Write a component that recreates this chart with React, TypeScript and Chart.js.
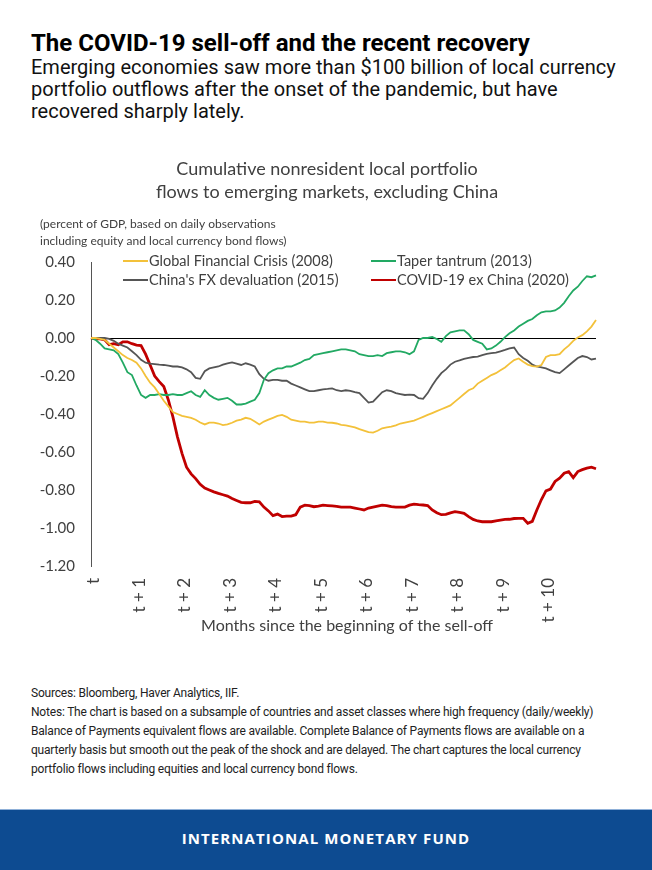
import React, { useEffect, useRef } from 'react';
import { Chart, registerables } from 'chart.js';

Chart.register(...registerables);

// ---- data ----
const MONTHS: string[] = Array.from({ length: 112 }, (_, i) => (i / 10).toFixed(1));
const X_TICK_LABELS = ['t', 't + 1', 't + 2', 't + 3', 't + 4', 't + 5', 't + 6', 't + 7', 't + 8', 't + 9', 't + 10'];
const Y_MIN = -1.2;
const Y_MAX = 0.4;
const Y_STEP = 0.2;

const SERIES_NAMES = ['Global Financial Crisis (2008)', 'Taper tantrum (2013)', "China's FX devaluation (2015)", 'COVID-19 ex China (2020)'];
const SERIES_COLORS = ['#f3c13a', '#22a963', '#555555', '#c00000'];

const GFC_2008 = [
  0, 0, -0.005, -0.01, -0.03, -0.05, -0.07, -0.09, -0.105, -0.116,
  -0.13, -0.16, -0.2, -0.235, -0.26, -0.295, -0.33, -0.36, -0.39, -0.4,
  -0.41, -0.415, -0.42, -0.43, -0.445, -0.455, -0.445, -0.445, -0.45, -0.458,
  -0.455, -0.446, -0.435, -0.43, -0.42, -0.425, -0.44, -0.455, -0.44, -0.43,
  -0.42, -0.41, -0.405, -0.415, -0.43, -0.435, -0.44, -0.44, -0.445, -0.445,
  -0.44, -0.44, -0.445, -0.446, -0.45, -0.457, -0.46, -0.465, -0.47, -0.48,
  -0.487, -0.495, -0.498, -0.488, -0.475, -0.47, -0.467, -0.46, -0.45, -0.445,
  -0.44, -0.435, -0.425, -0.415, -0.405, -0.395, -0.385, -0.375, -0.365, -0.355,
  -0.335, -0.315, -0.295, -0.275, -0.265, -0.24, -0.225, -0.21, -0.195, -0.185,
  -0.17, -0.155, -0.135, -0.116, -0.108, -0.125, -0.14, -0.148, -0.15, -0.142,
  -0.1, -0.09, -0.09, -0.085, -0.06, -0.04, -0.015, 0.003, 0.015, 0.035,
  0.06, 0.095,
];

const TAPER_2013 = [
  0, -0.01, -0.03, -0.055, -0.06, -0.065, -0.085, -0.13, -0.18, -0.195,
  -0.25, -0.3, -0.315, -0.3, -0.3, -0.295, -0.3, -0.3, -0.295, -0.3,
  -0.3, -0.29, -0.28, -0.3, -0.31, -0.275, -0.3, -0.315, -0.325, -0.32,
  -0.315, -0.33, -0.35, -0.35, -0.345, -0.335, -0.325, -0.29, -0.22, -0.185,
  -0.17, -0.16, -0.16, -0.15, -0.15, -0.14, -0.13, -0.116, -0.11, -0.09,
  -0.085, -0.08, -0.075, -0.07, -0.065, -0.06, -0.06, -0.065, -0.07, -0.085,
  -0.09, -0.095, -0.095, -0.09, -0.095, -0.08, -0.075, -0.07, -0.07, -0.075,
  -0.085, -0.07, -0.01, 0, 0, 0.005, -0.005, -0.02, 0.01, 0.03,
  0.035, 0.04, 0.04, 0.02, -0.01, -0.02, -0.03, -0.06, -0.055, -0.04,
  -0.02, 0.005, 0.025, 0.04, 0.06, 0.075, 0.09, 0.1, 0.12, 0.135,
  0.14, 0.14, 0.145, 0.16, 0.185, 0.22, 0.25, 0.27, 0.3, 0.325,
  0.32, 0.33,
];

const CHINA_FX_2015 = [
  0, 0, 0, 0, -0.005, -0.015, -0.03, -0.04, -0.05, -0.07,
  -0.09, -0.115, -0.13, -0.135, -0.137, -0.14, -0.142, -0.145, -0.15, -0.15,
  -0.155, -0.165, -0.18, -0.21, -0.215, -0.175, -0.16, -0.155, -0.15, -0.14,
  -0.133, -0.128, -0.135, -0.142, -0.133, -0.14, -0.15, -0.19, -0.215, -0.225,
  -0.22, -0.22, -0.225, -0.225, -0.24, -0.25, -0.26, -0.27, -0.28, -0.28,
  -0.275, -0.27, -0.268, -0.265, -0.275, -0.28, -0.275, -0.278, -0.285, -0.29,
  -0.315, -0.34, -0.335, -0.31, -0.285, -0.275, -0.28, -0.29, -0.295, -0.3,
  -0.298, -0.3, -0.317, -0.32, -0.29, -0.25, -0.215, -0.185, -0.165, -0.14,
  -0.125, -0.118, -0.11, -0.105, -0.1, -0.098, -0.09, -0.084, -0.08, -0.077,
  -0.07, -0.063, -0.055, -0.05, -0.085, -0.105, -0.12, -0.14, -0.15, -0.155,
  -0.16, -0.17, -0.18, -0.185, -0.165, -0.145, -0.125, -0.105, -0.095, -0.1,
  -0.113, -0.108,
];

const COVID_2020 = [
  0, -0.005, -0.005, -0.01, -0.035, -0.03, -0.035, -0.02, -0.02, -0.03,
  -0.037, -0.04, -0.085, -0.142, -0.2, -0.23, -0.255, -0.326, -0.415, -0.52,
  -0.607, -0.68, -0.715, -0.74, -0.77, -0.79, -0.8, -0.81, -0.818, -0.825,
  -0.832, -0.845, -0.855, -0.865, -0.867, -0.867, -0.86, -0.862, -0.89, -0.91,
  -0.935, -0.927, -0.94, -0.937, -0.937, -0.93, -0.89, -0.88, -0.882, -0.888,
  -0.885, -0.88, -0.882, -0.884, -0.886, -0.89, -0.89, -0.89, -0.895, -0.9,
  -0.905, -0.895, -0.89, -0.885, -0.88, -0.882, -0.888, -0.89, -0.89, -0.89,
  -0.88, -0.874, -0.877, -0.879, -0.882, -0.905, -0.92, -0.93, -0.928, -0.92,
  -0.914, -0.918, -0.923, -0.94, -0.955, -0.963, -0.967, -0.967, -0.967, -0.962,
  -0.958, -0.955, -0.954, -0.95, -0.949, -0.949, -0.975, -0.965, -0.905, -0.85,
  -0.805, -0.795, -0.755, -0.738, -0.712, -0.703, -0.735, -0.703, -0.693, -0.685,
  -0.68, -0.688,
];

const SERIES_VALUES = [GFC_2008, TAPER_2013, CHINA_FX_2015, COVID_2020];
const SERIES_WIDTHS = [1.8, 1.8, 1.8, 2.8];

const CHART_TITLE = ['Cumulative nonresident local portfolio', 'flows to emerging markets, excluding China'];
const Y_NOTE = ['(percent of GDP, based on daily observations', 'including equity and local currency bond flows)'];
const X_TITLE = 'Months since the beginning of the sell-off';

const CAL = "Lato, 'Open Sans', sans-serif";
const TEXT_COLOR = '#404040';

const annotationPlugin = {
  id: 'annotationTexts',
  afterDraw(chart: any) {
    const ctx = chart.ctx as CanvasRenderingContext2D;
    ctx.save();
    ctx.fillStyle = TEXT_COLOR;
    ctx.textBaseline = 'middle';

    // chart title
    ctx.font = `18px ${CAL}`;
    ctx.textAlign = 'center';
    ctx.fillText(CHART_TITLE[0], 327, 29);
    ctx.fillText(CHART_TITLE[1], 327, 52);

    // y note
    ctx.font = `12px ${CAL}`;
    ctx.textAlign = 'left';
    ctx.fillText(Y_NOTE[0], 40, 84);
    ctx.fillText(Y_NOTE[1], 40, 101);

    // legend (2 x 2)
    const cols = [123, 371];
    const rows = [121, 140];
    ctx.font = `14.5px ${CAL}`;
    chart.data.datasets.forEach((ds: any, i: number) => {
      const cx = cols[i % 2];
      const cy = rows[Math.floor(i / 2)];
      ctx.strokeStyle = ds.borderColor;
      ctx.lineWidth = 2;
      ctx.beginPath();
      ctx.moveTo(cx, cy);
      ctx.lineTo(cx + 25, cy);
      ctx.stroke();
      ctx.fillStyle = TEXT_COLOR;
      ctx.fillText(ds.label, cx + 26, cy);
    });

    // x axis title
    ctx.font = `16px ${CAL}`;
    ctx.textAlign = 'center';
    ctx.fillText(X_TITLE, 347, 486);
    ctx.restore();
  },
};

export default function App() {
  const ref = useRef<HTMLCanvasElement>(null);

  useEffect(() => {
    if (!ref.current) return;
    const chart = new Chart(ref.current, {
      type: 'line',
      data: {
        labels: MONTHS,
        datasets: SERIES_VALUES.map((vals, i) => ({
          label: SERIES_NAMES[i],
          data: vals,
          borderColor: SERIES_COLORS[i],
          backgroundColor: SERIES_COLORS[i],
          borderWidth: SERIES_WIDTHS[i],
          pointRadius: 0,
          tension: 0,
          fill: false,
        })),
      },
      options: {
        responsive: false,
        animation: false,
        layout: { padding: { top: 122, right: 56, left: 0, bottom: 0 } },
        plugins: {
          legend: { display: false },
          title: { display: false },
          tooltip: { enabled: false },
        },
        scales: {
          x: {
            type: 'category',
            grid: { display: false, drawTicks: false },
            border: { display: false },
            afterBuildTicks: (scale: any) => {
              scale.ticks = X_TICK_LABELS.map((_, i) => ({ value: i * 10 }));
            },
            afterFit: (scale: any) => {
              scale.height = 84;
            },
            ticks: {
              autoSkip: false,
              minRotation: 90,
              maxRotation: 90,
              padding: 12,
              labelOffset: 3,
              color: TEXT_COLOR,
              font: { family: CAL, size: 17 },
              callback: (value: any) => X_TICK_LABELS[Math.round(Number(value) / 10)] ?? '',
            },
          },
          y: {
            type: 'linear',
            min: Y_MIN,
            max: Y_MAX,
            afterFit: (scale: any) => {
              scale.width = 91;
            },
            grid: {
              drawTicks: false,
              lineWidth: 1,
              color: (c: any) => (Math.abs(c.tick?.value ?? 1) < 1e-9 ? '#000000' : 'rgba(0,0,0,0)'),
            },
            border: { display: true, color: '#555555', width: 1 },
            ticks: {
              stepSize: Y_STEP,
              padding: 16,
              color: TEXT_COLOR,
              font: { family: CAL, size: 15 },
              callback: (v: any) => (Math.abs(Number(v)) < 1e-9 ? '0.00' : Number(v).toFixed(2)),
            },
          },
        },
      },
      plugins: [annotationPlugin],
    } as any);
    return () => chart.destroy();
  }, []);

  return (
    <div style={{ position: 'absolute', left: 0, top: 0, width: 652, height: 870, background: '#ffffff', fontFamily: 'Roboto, sans-serif', overflow: 'hidden' }}>
      <div style={{ position: 'absolute', left: 31, top: 29, fontSize: 24, lineHeight: '28px', fontWeight: 700, color: '#000', whiteSpace: 'nowrap' }}>
        The COVID-19 sell-off and the recent recovery
      </div>
      <div style={{ position: 'absolute', left: 31, top: 56, fontSize: 20, lineHeight: '22px', color: '#111', whiteSpace: 'nowrap' }}>
        Emerging economies saw more than $100 billion of local currency<br />
        portfolio outflows after the onset of the pandemic, but have<br />
        recovered sharply lately.
      </div>
      <canvas ref={ref} width={652} height={510} style={{ position: 'absolute', left: 0, top: 140, width: 652, height: 510 }} />
      <div style={{ position: 'absolute', left: 31, top: 683.5, fontSize: 12, lineHeight: '19px', color: '#222', whiteSpace: 'nowrap', letterSpacing: '-0.2px' }}>
        Sources: Bloomberg, Haver Analytics, IIF.<br />
        Notes: The chart is based on a subsample of countries and asset classes where high frequency (daily/weekly)<br />
        Balance of Payments equivalent flows are available. Complete Balance of Payments flows are available on a<br />
        quarterly basis but smooth out the peak of the shock and are delayed. The chart captures the local currency<br />
        portfolio flows including equities and local currency bond flows.
      </div>
      <div style={{ position: 'absolute', left: 0, top: 809, width: 652, height: 61, background: '#0d4b91', borderTop: '1px solid #8fb0d8', boxSizing: 'border-box', display: 'flex', alignItems: 'center', justifyContent: 'center' }}>
        <span style={{ color: '#ffffff', fontFamily: "'Open Sans', sans-serif", fontWeight: 700, fontSize: 15, letterSpacing: '1.1px', marginTop: -4 }}>
          INTERNATIONAL MONETARY FUND
        </span>
      </div>
    </div>
  );
}
